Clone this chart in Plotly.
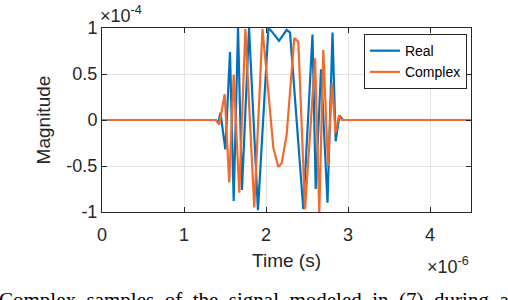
import plotly.graph_objects as go

# time in microseconds (x 1e-6 s), magnitude in units of 1e-4
real_t = [0.0, 1.39, 1.418, 1.445, 1.504, 1.561, 1.606, 1.659, 1.707, 1.793, 1.902,
          2.030, 2.082, 2.159, 2.252, 2.293, 2.455, 2.567, 2.606, 2.671, 2.750,
          2.811, 2.850, 2.896, 2.939, 4.5]
real_v = [0.0, 0.0, -0.03, 0.08, -0.32, 0.74, -0.88, 1.0, -0.76, 1.0, -0.98,
          1.0, 0.95, 0.86, 0.98, 0.95, -0.97, 0.93, -0.75, 0.55, -0.90,
          0.95, -0.23, 0.05, 0.0, 0.0]

cplx_t = [0.0, 1.39, 1.430, 1.496, 1.552, 1.606, 1.674, 1.748, 1.857, 1.957,
          2.028, 2.089, 2.150, 2.191, 2.252, 2.313, 2.345, 2.394, 2.476,
          2.598, 2.650, 2.699, 2.756, 2.805, 2.848, 2.890, 2.927, 4.5]
cplx_v = [0.0, 0.0, -0.05, 0.28, -0.68, 0.49, -0.79, 0.99, -0.95, 0.99,
          0.31, -0.30, -0.51, -0.47, -0.16, 0.60, 0.89, 0.85, -0.97,
          0.67, -1.0, 0.76, -0.50, 0.40, -0.14, 0.05, 0.0, 0.0]

x_ticks = [0, 1, 2, 3, 4]
y_ticks = [-1, -0.5, 0, 0.5, 1]
y_tick_labels = ["-1", "-0.5", "0", "0.5", "1"]
caption_words = ["Complex", "samples", "of", "the", "signal", "modeled", "in", "(7)", "during", "a"]

BLUE = "#0072BD"
ORANGE = "#F26A2C"
FONT = "Liberation Sans, Arial, sans-serif"
AXC = "#262626"

fig = go.Figure()
fig.add_trace(go.Scatter(x=real_t, y=real_v, mode="lines", name="Real",
                         line=dict(color=BLUE, width=2.2)))
fig.add_trace(go.Scatter(x=cplx_t, y=cplx_v, mode="lines", name="Complex",
                         line=dict(color=ORANGE, width=2.2)))

fig.update_layout(
    width=508, height=300,
    margin=dict(l=102, r=37, t=28, b=88),
    paper_bgcolor="white", plot_bgcolor="white",
    font=dict(family=FONT, color=AXC, size=15),
    showlegend=True,
    legend=dict(x=0.989, y=0.967, xanchor="right", yanchor="top",
                bgcolor="white", bordercolor=AXC, borderwidth=1,
                font=dict(size=14, color="black"), tracegroupgap=0,
                itemwidth=30),
)
fig.update_xaxes(range=[0, 4.5], tickvals=x_ticks, ticktext=[str(v) for v in x_ticks],
                 showline=True, mirror="ticks", linecolor=AXC, linewidth=1,
                 ticks="inside", ticklen=5, tickcolor=AXC, ticklabelstandoff=6,
                 showgrid=True, gridcolor="#e3e3e3", gridwidth=1, zeroline=False,
                 tickfont=dict(size=18),
                 title=dict(text="Time (s)", font=dict(size=19), standoff=10))
fig.update_yaxes(range=[-1, 1], tickvals=y_ticks, ticktext=y_tick_labels,
                 showline=True, mirror="ticks", linecolor=AXC, linewidth=1,
                 ticks="inside", ticklen=5, tickcolor=AXC,
                 showgrid=True, gridcolor="#e3e3e3", gridwidth=1, zeroline=False,
                 tickfont=dict(size=18),
                 title=dict(text="Magnitude", font=dict(size=19), standoff=10))

fig.add_annotation(text="×10<sup>-4</sup>", xref="paper", yref="paper",
                   x=-0.01, y=1.0, xanchor="left", yanchor="bottom",
                   showarrow=False, font=dict(size=18, color=AXC))
fig.add_annotation(text="×10<sup>-6</sup>", xref="paper", yref="paper",
                   x=1.0, y=-0.215, xanchor="right", yanchor="top",
                   showarrow=False, font=dict(size=18, color=AXC))
fig.add_annotation(text=" &nbsp;".join(caption_words),
                   xref="paper", yref="paper", x=-0.285, y=-0.40,
                   xanchor="left", yanchor="top", showarrow=False,
                   font=dict(size=21, color="black",
                             family="Liberation Serif, Times New Roman, serif"))

fig.write_html("out.html", config={"displayModeBar": False},
               post_script="document.body.style.margin='0';")
